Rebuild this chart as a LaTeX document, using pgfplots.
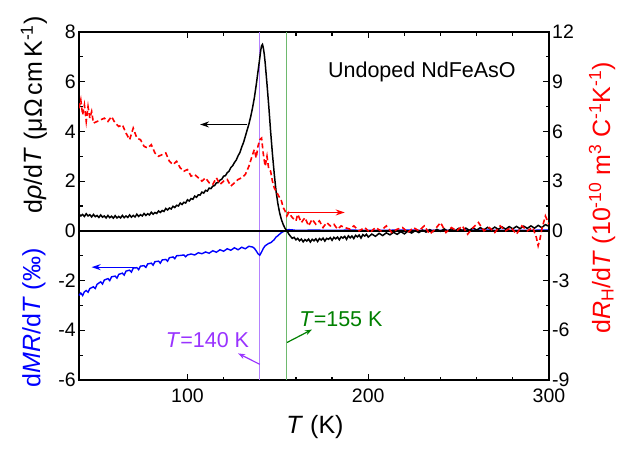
\documentclass[border=0pt]{standalone}
\usepackage{pgfplots}
\pgfplotsset{compat=1.18}
\usepackage{fontspec}
\setmainfont{Liberation Sans}
\usetikzlibrary{arrows.meta}
\definecolor{vtext}{RGB}{153,51,255}
\definecolor{vline}{RGB}{180,130,255}
\definecolor{gtext}{RGB}{0,128,0}
\definecolor{gline}{RGB}{110,185,110}
\newcommand\lab{\fontsize{21.5bp}{24bp}\selectfont}
\newcommand\alab{\fontsize{25bp}{28bp}\selectfont}
\begin{document}
\begin{tikzpicture}
\useasboundingbox (0,0) rectangle (635bp,449bp);
\begin{axis}[
  at={(79bp,69bp)}, anchor=south west,
  width=470bp, height=348bp, scale only axis,
  xmin=40, xmax=300, ymin=-6, ymax=8,
  xtick={100,200,300}, minor x tick num=4,
  ytick={-6,-4,...,8}, minor y tick num=1,
  xtick pos=both, ytick pos=left, tick align=inside,
  major tick length=6bp, minor tick length=3.5bp,
  axis line style={line width=1.3bp},
  every tick/.style={line width=1.2bp, black},
  tick label style={font=\fontsize{19.5bp}{22bp}\selectfont, inner sep=1bp},
  xticklabel style={yshift=-8bp},
  yticklabel style={xshift=-2bp},
  /pgf/number format/assume math mode=true,
  clip=false,
]
\draw[color=vline, line width=1.1bp] (axis cs:140,-6) -- (axis cs:140,8);
\draw[color=gline, line width=1.1bp] (axis cs:155,-6) -- (axis cs:155,8);
% blue dMR/dT
\addplot[blue, line width=1.4bp, no markers] coordinates {
(40,-2.6)(41,-2.5)(42,-2.6)(43,-2.45)(44,-2.4)(45,-2.47)(46,-2.32)(48,-2.25)(49,-2.32)(50,-2.15)(52,-2.05)(53,-2.14)(54,-1.98)(56,-1.92)(57,-2.0)(58,-1.85)(60,-1.82)(61,-1.9)(62,-1.75)(64,-1.7)(65,-1.78)(66,-1.62)(68,-1.58)(69,-1.66)(70,-1.5)(72,-1.48)(73,-1.56)(74,-1.42)(76,-1.4)(77,-1.47)(78,-1.33)(80,-1.3)(81,-1.38)(82,-1.24)(84,-1.22)(85,-1.3)(86,-1.17)(88,-1.15)(89,-1.22)(90,-1.08)(92,-1.05)(93,-1.12)(94,-1.0)(96,-0.99)(98,-0.97)(99,-1.04)(100,-0.97)(102,-0.93)(104,-0.97)(106,-0.88)(108,-0.92)(110,-0.85)(112,-0.9)(114,-0.8)(116,-0.86)(118,-0.76)(120,-0.82)(122,-0.72)(124,-0.78)(126,-0.68)(128,-0.76)(130,-0.66)(132,-0.72)(134,-0.62)(136,-0.65)(137,-0.7)(138,-0.8)(139,-0.92)(140,-0.98)(141,-0.85)(142,-0.7)(143,-0.6)(144,-0.55)(145,-0.5)(146,-0.48)(147,-0.42)(148,-0.35)(149,-0.25)(150,-0.2)(151,-0.13)(152,-0.07)(153,-0.03)(154,0.0)(155,0.03)(156,0.05)(158,0.04)(160,0.02)(170,0.03)(180,0.02)(190,0.03)(200,0.02)(220,0.03)(240,0.02)(260,0.03)(280,0.02)(300,0.03)
};
% black drho/dT
\addplot[black, line width=1.5bp, no markers] coordinates {
(40,0.68)(41,0.6)(42,0.66)(43,0.58)(44,0.69)(45,0.6)(46,0.65)(47,0.56)(48,0.66)(49,0.57)(50,0.62)(51,0.54)(52,0.64)(53,0.55)(54,0.6)(55,0.52)(56,0.62)(57,0.53)(58,0.59)(59,0.51)(60,0.61)(61,0.52)(62,0.58)(63,0.52)(64,0.62)(65,0.53)(66,0.6)(67,0.54)(68,0.64)(69,0.55)(70,0.62)(71,0.56)(72,0.67)(73,0.58)(74,0.65)(75,0.6)(76,0.7)(77,0.62)(78,0.69)(79,0.64)(80,0.75)(81,0.67)(82,0.74)(83,0.7)(84,0.8)(85,0.74)(86,0.82)(87,0.78)(88,0.9)(89,0.84)(90,0.92)(91,0.88)(92,0.99)(93,0.94)(94,1.03)(95,1.0)(96,1.12)(97,1.06)(98,1.15)(99,1.12)(100,1.25)(101,1.2)(102,1.3)(103,1.27)(104,1.4)(105,1.35)(106,1.45)(107,1.44)(108,1.56)(109,1.52)(110,1.63)(111,1.6)(112,1.72)(113,1.7)(114,1.8)(115,1.82)(116,1.93)(117,1.94)(118,2.04)(119,2.08)(120,2.2)(121,2.22)(122,2.34)(123,2.4)(124,2.55)(125,2.62)(126,2.75)(127,2.85)(128,3.02)(129,3.15)(130,3.37)(131,3.55)(132,3.8)(133,4.05)(134,4.3)(135,4.6)(136,4.95)(137,5.35)(138,5.85)(139,6.4)(140,6.95)(140.5,7.25)(141,7.45)(141.5,7.5)(142,7.35)(142.5,7.1)(143,6.75)(144,5.9)(145,5.0)(146,4.0)(147,3.1)(148,2.3)(149,1.6)(150,1.1)(151,0.72)(152,0.45)(153,0.25)(154,0.1)(155,0.0)(156,-0.12)(157,-0.22)(158,-0.3)(159,-0.26)(160,-0.36)(161,-0.3)(162,-0.4)(163,-0.33)(164,-0.44)(165,-0.35)(166,-0.41)(167,-0.33)(168,-0.45)(169,-0.34)(170,-0.4)(171,-0.32)(172,-0.43)(173,-0.31)(174,-0.37)(175,-0.29)(176,-0.41)(177,-0.3)(178,-0.34)(179,-0.27)(180,-0.38)(181,-0.26)(182,-0.32)(183,-0.25)(184,-0.36)(185,-0.24)(186,-0.29)(187,-0.22)(188,-0.34)(189,-0.2)(190,-0.28)(191,-0.21)(192,-0.31)(193,-0.18)(194,-0.24)(195,-0.17)(196,-0.29)(197,-0.15)(198,-0.21)(199,-0.14)(200,-0.25)(202,-0.13)(204,-0.22)(206,-0.1)(208,-0.19)(210,-0.08)(212,-0.16)(214,-0.06)(216,-0.14)(218,-0.03)(220,-0.12)(222,-0.01)(224,-0.09)(226,0.01)(228,-0.07)(230,0.03)(232,-0.05)(234,0.05)(236,-0.03)(238,0.06)(240,-0.02)(242,0.08)(244,-0.01)(246,0.09)(248,0.0)(250,0.1)(252,0.01)(254,0.11)(256,0.02)(258,0.12)(260,0.03)(262,0.13)(264,0.04)(266,0.14)(268,0.05)(270,0.15)(272,0.06)(274,0.16)(276,0.07)(278,0.17)(280,0.08)(282,0.18)(284,0.09)(286,0.19)(288,0.1)(290,0.2)(292,0.11)(294,0.22)(296,0.13)(298,0.25)(300,0.18)
};
\draw[black, line width=1.4bp] (axis cs:40,0) -- (axis cs:300,0);
% arrows
\draw[black, line width=1.3bp, -{Stealth[length=9bp,width=6bp]}] (axis cs:133,4.28) -- (axis cs:107,4.28);
\draw[red, line width=1.3bp, -{Stealth[length=9bp,width=6bp]}] (axis cs:155,0.74) -- (axis cs:187,0.74);
\draw[blue, line width=1.3bp, -{Stealth[length=9bp,width=6bp]}] (axis cs:72,-1.46) -- (axis cs:47,-1.46);
\draw[vtext, line width=1.2bp, -{Stealth[length=7bp,width=5bp]}] (axis cs:140,-5.37) -- (axis cs:128,-4.93);
\draw[gtext, line width=1.2bp, -{Stealth[length=7bp,width=5bp]}] (axis cs:155.1,-4.49) -- (axis cs:168.9,-3.97);
\node[vtext, font=\lab] at (axis cs:111.1,-4.40) {\textit{T}=140 K};
\node[gtext, font=\lab] at (axis cs:184.9,-3.56) {\textit{T}=155 K};
\node[black, font=\lab] at (axis cs:229.7,6.41) {Undoped NdFeAsO};
\end{axis}
\begin{axis}[
  at={(79bp,69bp)}, anchor=south west,
  width=470bp, height=348bp, scale only axis,
  xmin=40, xmax=300, ymin=-9, ymax=12,
  axis x line=none, axis y line*=right,
  ytick={-9,-6,...,12}, minor y tick num=1,
  ytick pos=right, tick align=inside,
  major tick length=6bp, minor tick length=3.5bp,
  axis line style={line width=1.3bp},
  every tick/.style={line width=1.2bp, black},
  tick label style={font=\fontsize{19.5bp}{22bp}\selectfont, inner sep=1bp},
  yticklabel style={xshift=2bp},
  /pgf/number format/assume math mode=true,
]
\addplot[red, line width=1.6bp, no markers, dash pattern=on 5bp off 3bp] coordinates {
(40,7.4)(41,7.9)(42,7.0)(43,7.6)(44,6.6)(45,7.5)(46,6.8)(47,7.2)(48,6.5)(50,6.6)(52,6.7)(54,6.8)(56,6.6)(58,6.9)(60,6.5)(62,6.3)(64,6.4)(66,5.9)(68,5.5)(70,6.2)(72,5.6)(74,5.5)(76,5.1)(78,5.0)(80,5.2)(82,4.7)(84,4.5)(86,4.6)(88,4.7)(90,4.2)(92,4.0)(94,4.2)(96,3.8)(98,3.6)(100,3.7)(102,3.3)(104,3.4)(106,3.2)(108,3.0)(110,3.2)(112,2.9)(114,2.8)(116,3.2)(118,2.8)(120,3.0)(122,3.1)(124,2.7)(126,2.9)(128,3.1)(130,3.2)(132,3.4)(134,3.9)(136,4.6)(137,4.9)(138,4.4)(139,5.1)(140,5.5)(141,5.6)(142,4.6)(143,3.9)(144,4.5)(145,3.7)(146,3.6)(147,3.0)(148,2.6)(150,2.2)(152,1.8)(153,1.4)(154,1.2)(155,0.9)(156,1.1)(158,0.8)(160,0.6)(161,1.0)(163,0.5)(165,0.8)(167,0.3)(169,0.7)(171,0.4)(173,0.6)(175,0.2)(177,0.5)(179,0.3)(181,0.4)(183,0.1)(185,0.3)(187,0.2)(190,0.1)(192,0.3)(195,0.0)(198,0.2)(201,-0.1)(204,0.2)(207,0.0)(210,0.3)(213,-0.1)(216,0.1)(219,0.2)(222,-0.1)(225,0.2)(228,0.0)(231,0.3)(234,-0.2)(237,0.1)(240,0.5)(243,-0.1)(246,0.2)(249,0.0)(252,0.3)(255,-0.2)(258,0.2)(261,0.5)(264,0.0)(267,0.2)(270,-0.1)(273,0.3)(276,0.0)(279,0.2)(282,-0.2)(285,0.3)(288,0.0)(291,0.2)(293,-0.4)(294,-0.9)(295,-0.5)(296,0.1)(298,0.9)(300,0.4)
};
\end{axis}
\node[rotate=90, font=\alab] at (34bp,334bp) {d\textit{ρ}/d\textit{T} (μΩ\,cm\,K\textsuperscript{-1})};
\node[rotate=90, font=\alab, blue] at (34bp,131bp) {d\textit{MR}/d\textit{T} (‰)};
\node[rotate=90, font=\alab, red] at (602bp,251bp) {d\textit{R}\textsubscript{H}/d\textit{T} (10\textsuperscript{-10} m\textsuperscript{3} C\textsuperscript{-1}K\textsuperscript{-1})};
\node[font=\alab] at (315bp,22bp) {\textit{T} (K)};
\end{tikzpicture}
\end{document}
